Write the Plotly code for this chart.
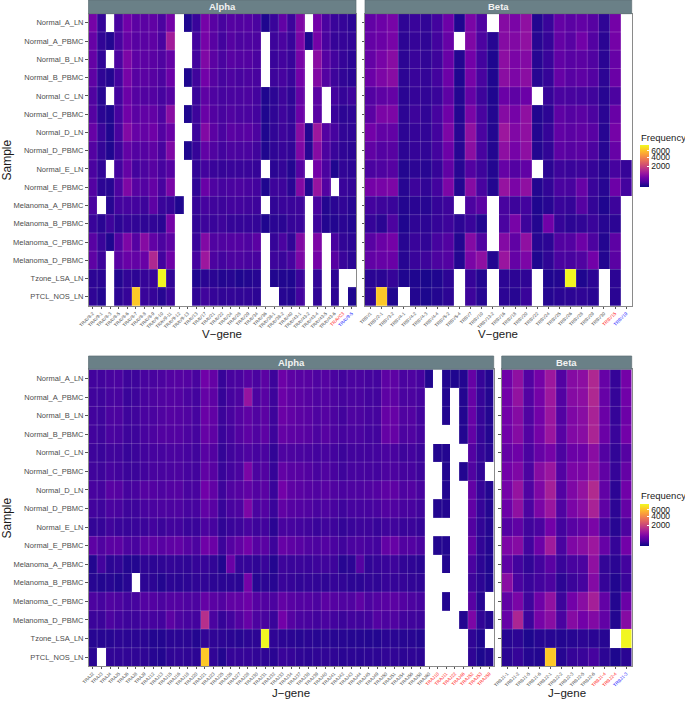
import numpy as np
import plotly.graph_objects as go

N = None
W, H = 685, 702

samples = ["Normal_A_LN", "Normal_A_PBMC", "Normal_B_LN", "Normal_B_PBMC", "Normal_C_LN", "Normal_C_PBMC",
           "Normal_D_LN", "Normal_D_PBMC", "Normal_E_LN", "Normal_E_PBMC", "Melanoma_A_PBMC", "Melanoma_B_PBMC",
           "Melanoma_C_PBMC", "Melanoma_D_PBMC", "Tzone_LSA_LN", "PTCL_NOS_LN"]

trav_grey = ["TRAV8-2", "TRAV9-1", "TRAV8-3", "TRAV8-5", "TRAV8-6", "TRAV8-7", "TRAV8-8", "TRAV8-9", "TRAV9-10",
             "TRAV9-11", "TRAV9-12", "TRAV9-13", "TRAV13", "TRAV17", "TRAV21", "TRAV22", "TRAV24", "TRAV28",
             "TRAV29", "TRAV34", "TRAV36", "TRAV38-1", "TRAV38-2", "TRAV40", "TRAV43-1", "TRAV43-2", "TRAV43-4",
             "TRAV43-5", "TRAV43-6"]
trav_red = ["TRAVC3"]
trav_blue = ["TRAV9-5"]

trbv_grey = ["TRBV1", "TRBV2-1", "TRBV3-2", "TRBV4-1", "TRBV4-2", "TRBV4-3", "TRBV4-4", "TRBV5-2", "TRBV5-4", "TRBV7",
             "TRBV10", "TRBV13-2", "TRBV16", "TRBV18", "TRBV20", "TRBV22", "TRBV24", "TRBV25", "TRBV26", "TRBV28",
             "TRBV29", "TRBV30"]
trbv_red = ["TRBV15"]
trbv_blue = ["TRBV19"]

traj_grey = ["TRAJ2", "TRAJ3", "TRAJ4", "TRAJ5", "TRAJ6", "TRAJ8", "TRAJ9", "TRAJ12", "TRAJ13", "TRAJ15", "TRAJ16",
             "TRAJ18", "TRAJ20", "TRAJ21", "TRAJ23", "TRAJ25", "TRAJ26", "TRAJ27", "TRAJ28", "TRAJ30", "TRAJ31",
             "TRAJ32", "TRAJ33", "TRAJ34", "TRAJ37", "TRAJ38", "TRAJ39", "TRAJ40", "TRAJ41", "TRAJ42", "TRAJ43",
             "TRAJ44", "TRAJ45", "TRAJ49", "TRAJ50", "TRAJ51", "TRAJ54", "TRAJ56", "TRAJ58", "TRAJ60"]
traj_red = ["TRAJ10", "TRAJ11", "TRAJ22", "TRAJ46", "TRAJ52", "TRAJ53", "TRAJ59"]
traj_blue = []

trbj_grey = ["TRBJ1-1", "TRBJ1-2", "TRBJ1-5", "TRBJ1-6", "TRBJ2-1", "TRBJ2-2", "TRBJ2-3", "TRBJ2-5", "TRBJ2-6"]
trbj_red = ["TRBJ1-4", "TRBJ2-4"]
trbj_blue = ["TRBJ1-3"]

alpha_v = [
    [430,50,N,110,380,220,220,250,130,420,N,10,60,430,200,110,180,160,170,120,10,60,260,70,520,N,390,120,60,50,30],
    [300,40,15,110,300,190,210,240,120,1000,N,N,90,440,200,90,180,130,140,130,N,70,120,60,480,10,420,110,50,50,40],
    [280,40,N,130,500,230,230,210,150,280,N,N,90,530,220,120,200,170,170,120,N,60,90,60,450,N,650,180,90,50,30],
    [240,35,15,90,440,190,220,190,130,340,N,10,80,400,180,100,140,110,130,110,N,70,100,60,400,N,560,170,70,40,25],
    [150,20,N,90,340,180,160,170,100,180,N,N,60,240,140,100,120,120,130,90,10,30,70,35,280,N,210,N,90,50,70],
    [180,25,10,100,380,210,260,270,140,640,N,10,70,320,160,110,150,120,120,90,10,35,75,45,340,N,200,N,60,30,35],
    [300,60,10,110,550,300,280,360,170,320,N,N,70,560,220,120,210,180,200,130,10,40,70,50,620,15,900,170,100,40,35],
    [170,45,10,70,270,170,180,240,110,520,N,10,50,260,150,90,130,120,120,80,10,35,55,40,520,20,600,130,60,35,25],
    [120,40,N,90,280,90,130,190,100,180,N,N,40,90,60,50,60,60,60,50,N,25,45,15,180,N,400,120,10,40,30],
    [170,30,20,130,520,190,170,280,110,470,N,N,35,320,140,100,120,130,110,90,10,70,70,25,560,15,800,170,N,60,45],
    [120,N,20,90,100,90,70,230,60,50,10,N,50,100,80,70,90,90,80,70,N,40,60,60,70,N,110,15,25,40,20],
    [60,25,70,30,50,40,35,40,25,430,N,N,40,70,60,70,50,50,50,45,10,25,25,50,60,N,70,15,15,25,15],
    [200,60,10,170,500,180,600,260,130,230,N,N,60,560,150,150,170,170,140,220,N,50,120,40,560,N,500,N,110,40,30],
    [240,70,N,200,310,270,310,1250,90,360,N,N,100,900,130,90,130,130,110,110,N,70,60,100,500,N,420,N,190,60,30],
    [30,25,N,15,40,30,50,55,8000,40,N,N,10,25,25,15,20,10,15,20,N,12,12,10,60,N,45,N,30,N,N],
    [35,15,N,30,50,6300,60,50,20,60,N,N,35,80,50,40,45,40,40,30,N,N,20,15,90,N,40,N,30,N,10],
]

beta_v = [
    [270,350,450,35,60,40,90,350,10,480,150,N,600,480,720,15,60,280,220,270,190,35,420,N],
    [280,330,450,30,50,35,90,300,N,520,130,20,600,560,740,20,50,280,200,390,170,25,420,N],
    [280,450,620,30,60,40,70,310,15,400,90,10,680,480,580,20,60,260,200,220,150,25,300,N],
    [340,500,620,30,60,45,90,350,10,430,110,10,660,500,660,20,50,300,200,240,170,30,330,N],
    [170,230,280,25,50,40,60,230,15,280,70,10,330,240,340,N,50,120,110,100,80,20,130,N],
    [220,480,500,30,70,40,100,360,15,470,110,15,600,430,720,12,30,240,180,210,130,25,310,N],
    [400,260,270,30,50,40,90,500,20,720,120,15,900,540,720,15,50,260,220,250,200,20,430,N],
    [250,170,190,30,50,40,90,350,20,660,110,15,700,430,700,15,40,230,190,220,130,20,300,N],
    [120,140,180,15,30,20,50,250,20,160,70,15,290,170,260,N,25,70,60,70,50,15,100,50],
    [420,450,500,20,70,40,90,500,15,600,110,15,800,480,720,15,40,120,110,300,60,20,350,90],
    [90,70,60,15,25,20,50,70,N,130,220,N,110,70,90,10,20,60,50,180,45,10,70,N],
    [50,25,130,10,35,30,50,70,30,60,15,N,120,450,70,15,380,50,30,40,60,20,30,N],
    [200,320,420,20,60,40,100,160,15,580,150,N,580,250,720,20,30,160,170,350,130,15,230,N],
    [260,300,320,20,60,70,130,170,15,480,700,15,850,280,500,10,35,120,110,150,400,15,210,N],
    [25,25,50,10,10,5,10,30,N,50,15,N,30,30,35,N,10,15,8000,10,30,N,30,N],
    [35,6300,12,N,15,8,15,30,N,70,20,N,30,20,60,N,18,25,30,35,25,N,25,N],
]

alpha_j = [
    [85,85,110,120,70,70,110,110,130,170,180,170,110,380,280,55,110,120,180,120,220,70,350,230,200,190,140,180,120,85,120,120,95,90,230,230,120,140,100,12,N,15,10,15,290,50,15],
    [80,75,100,110,60,70,110,130,150,170,170,120,90,280,230,50,100,130,800,130,200,70,340,240,210,180,140,170,130,95,120,120,90,85,230,230,120,130,100,N,N,15,N,15,290,50,15],
    [85,75,125,130,75,80,120,120,150,180,170,150,100,320,260,65,110,170,240,150,220,70,330,260,220,200,140,180,130,85,140,130,100,95,290,300,150,170,90,N,N,15,N,15,300,50,15],
    [85,70,120,110,70,70,110,130,160,160,170,130,95,290,240,60,95,160,230,150,230,70,280,230,220,190,130,190,130,95,120,120,90,85,280,290,130,150,95,N,N,N,N,15,270,50,15],
    [70,60,80,80,55,65,85,100,100,120,120,100,80,200,160,45,80,100,140,100,120,40,140,130,120,110,90,110,90,65,85,85,85,90,120,110,70,90,65,N,15,15,N,N,170,45,20],
    [80,70,100,85,65,65,85,110,110,120,130,100,85,250,190,55,90,120,480,130,160,50,270,200,190,160,110,150,110,75,100,100,95,90,130,130,95,100,70,N,N,15,N,15,150,40,N],
    [110,95,200,180,95,110,180,170,140,170,180,110,110,380,260,70,150,180,250,160,210,60,400,240,210,180,150,200,150,120,140,140,150,170,230,240,140,170,110,N,N,15,N,N,270,50,15],
    [85,75,120,110,70,70,110,120,130,130,140,100,100,260,200,55,110,130,500,120,170,60,250,180,170,150,110,140,110,75,100,100,100,110,160,150,110,110,80,N,15,15,N,N,260,50,15],
    [45,50,80,60,55,60,65,90,65,85,85,60,60,130,100,35,60,70,110,70,85,25,110,100,90,80,60,80,70,45,60,70,70,55,80,80,60,65,50,N,N,N,N,N,160,40,15],
    [230,150,210,220,130,110,220,240,200,240,260,180,130,370,330,70,180,250,400,180,210,70,300,240,200,150,130,170,120,80,120,130,100,90,270,300,160,170,120,N,15,15,N,N,270,40,15],
    [15,90,30,40,15,15,35,30,35,45,40,35,50,55,40,12,320,50,50,35,60,15,70,60,65,60,70,80,70,20,30,180,40,50,60,70,40,35,25,N,N,15,N,N,120,30,10],
    [20,15,20,12,20,N,30,30,15,30,25,30,35,40,30,25,30,25,420,20,30,20,60,50,40,45,40,35,50,40,30,30,40,35,55,50,50,40,35,N,N,N,N,N,70,30,10],
    [130,100,150,130,90,100,170,170,130,170,170,140,130,280,210,160,250,260,350,180,160,130,270,200,170,170,130,220,180,150,150,240,130,170,200,220,170,130,100,N,N,15,N,N,200,20,N],
    [65,65,130,90,70,70,100,100,90,220,130,100,90,1400,120,50,90,160,300,130,110,60,400,180,120,110,85,120,90,65,85,80,90,170,130,150,85,80,70,N,N,N,N,15,500,40,15],
    [20,20,20,30,25,25,25,15,15,25,25,25,15,40,35,30,25,20,30,30,8000,35,30,25,20,25,20,25,20,20,18,18,15,15,25,25,20,22,15,N,N,N,N,N,35,10,N],
    [25,N,40,40,40,35,35,20,15,35,40,35,30,6300,40,15,50,50,50,40,35,25,60,50,35,30,35,40,35,25,30,25,30,30,40,40,30,35,30,N,N,N,N,N,35,8,15],
]

beta_j = [
    [370,720,170,420,900,170,600,680,1250,300,50,420],
    [400,760,170,420,900,170,600,680,1250,300,50,380],
    [400,600,150,400,850,170,520,640,1120,330,50,350],
    [380,600,170,420,850,200,550,640,1160,330,60,400],
    [280,360,120,300,430,130,330,350,650,170,40,180],
    [400,520,130,600,850,170,480,480,740,250,50,280],
    [420,800,150,520,1050,170,520,760,1300,260,30,380],
    [350,720,130,480,850,150,480,640,1120,240,30,280],
    [170,250,80,120,400,90,200,270,480,90,20,130],
    [500,600,90,350,950,120,520,640,900,300,50,400],
    [230,90,40,90,210,60,110,130,720,45,25,90],
    [640,120,60,90,130,30,65,100,580,50,12,60],
    [250,480,80,360,740,70,400,640,1050,270,15,330],
    [300,1200,70,440,640,120,600,400,560,260,15,600],
    [20,30,8,20,20,15,20,30,25,20,N,8000],
    [25,50,18,15,6300,20,50,60,100,30,8,25],
]

legend_ticks = [2000, 4000, 6000]
freq_max = 8100

plasma = [[0, "#0d0887"], [0.111, "#46039f"], [0.222, "#7201a8"], [0.333, "#9c179e"], [0.444, "#bd3786"],
          [0.555, "#d8576b"], [0.666, "#ed7953"], [0.777, "#fb9f3a"], [0.888, "#fdca26"], [1, "#f0f921"]]

FONT = "Liberation Sans"
TICK_GREY = "#4d4d4d"
STRIP = "#6a8087"
BORDER = "#8a8a8a"
CELL_LINE = "rgba(255,255,255,0.32)"


def sqrt_z(rows):
    return [[None if v is None else float(np.sqrt(v)) for v in r] for r in rows]


def tick_text(grey, red, blue):
    return (grey + [f'<span style="color:#ff2020">{t}</span>' for t in red]
            + [f'<span style="color:#2020ff">{t}</span>' for t in blue])


panels = [
    ("Alpha", alpha_v, tick_text(trav_grey, trav_red, trav_blue), (88.5, 356), (13.7, 306), 0, "coloraxis", True),
    ("Beta", beta_v, tick_text(trbv_grey, trbv_red, trbv_blue), (365, 631.7), (13.7, 306), 0, "coloraxis", False),
    ("Alpha", alpha_j, tick_text(traj_grey, traj_red, traj_blue), (88.5, 493.7), (369.3, 666.3), 356, "coloraxis2", True),
    ("Beta", beta_j, tick_text(trbj_grey, trbj_red, trbj_blue), (501.7, 631.7), (369.3, 666.3), 356, "coloraxis2", False),
]

fig = go.Figure()
shapes, annotations = [], []
layout = {}

for i, (name, rows, labels, xpx, ypx, strip_top, cax, show_y) in enumerate(panels, start=1):
    assert all(len(r) == len(labels) for r in rows), name
    sfx = "" if i == 1 else str(i)
    nx, ny = len(labels), len(samples)
    fig.add_trace(go.Heatmap(z=sqrt_z(rows), x=list(range(nx)), y=list(range(ny)),
                             coloraxis=cax, xaxis=f"x{sfx}", yaxis=f"y{sfx}", hoverongaps=False))
    layout[f"xaxis{sfx}"] = dict(
        domain=[xpx[0] / W, xpx[1] / W], range=[-0.5, nx - 0.5], anchor=f"y{sfx}",
        tickmode="array", tickvals=list(range(nx)), ticktext=labels, tickangle=-45,
        tickfont=dict(family=FONT, size=4.6, color=TICK_GREY), ticks="outside", ticklen=2, tickwidth=0.5,
        tickcolor="#555555", showgrid=False, zeroline=False, showline=True, mirror=True,
        linecolor=BORDER, linewidth=1)
    layout[f"yaxis{sfx}"] = dict(
        domain=[1 - ypx[1] / H, 1 - ypx[0] / H], range=[ny - 0.5, -0.5], anchor=f"x{sfx}",
        tickmode="array", tickvals=list(range(ny)), ticktext=samples if show_y else [""] * ny,
        tickfont=dict(family=FONT, size=7.5, color=TICK_GREY), ticks="outside", ticklen=2.5, tickwidth=0.6,
        tickcolor="#555555", showgrid=False, zeroline=False, showline=True, mirror=True,
        linecolor=BORDER, linewidth=1)
    # thin translucent separators between the tiles
    for k in range(nx - 1):
        shapes.append(dict(type="line", xref=f"x{sfx}", yref=f"y{sfx} domain", x0=k + 0.5, x1=k + 0.5, y0=0, y1=1,
                           line=dict(color=CELL_LINE, width=0.6), layer="above"))
    for k in range(ny - 1):
        shapes.append(dict(type="line", xref=f"x{sfx} domain", yref=f"y{sfx}", x0=0, x1=1, y0=k + 0.5, y1=k + 0.5,
                           line=dict(color=CELL_LINE, width=0.6), layer="above"))
    shapes.append(dict(type="rect", xref="paper", yref="paper", x0=xpx[0] / W, x1=xpx[1] / W,
                       y0=1 - ypx[0] / H, y1=1 - strip_top / H, fillcolor=STRIP,
                       line=dict(color="#5d6e74", width=0.7)))
    annotations.append(dict(text=f"<b>{name}</b>", xref="paper", yref="paper", x=(xpx[0] + xpx[1]) / 2 / W,
                            y=1 - (strip_top + ypx[0]) / 2 / H, showarrow=False, xanchor="center", yanchor="middle",
                            font=dict(family=FONT, size=9.5, color="#f2f2f2")))
    gene = "V\u2212gene" if strip_top == 0 else "J\u2212gene"
    annotations.append(dict(text=gene, xref="paper", yref="paper", x=(xpx[0] + xpx[1]) / 2 / W,
                            y=1 - (ypx[1] + (28 if strip_top == 0 else 26.5)) / H, showarrow=False, xanchor="center",
                            yanchor="middle", font=dict(family=FONT, size=11.5, color="#1a1a1a")))

for yc in (160, 518):
    annotations.append(dict(text="Sample", xref="paper", yref="paper", x=6.5 / W, y=1 - yc / H, showarrow=False,
                            textangle=-90, xanchor="center", yanchor="middle",
                            font=dict(family=FONT, size=12, color="#1a1a1a")))
for yt in (137, 495):
    annotations.append(dict(text="Frequency", xref="paper", yref="paper", x=639 / W, y=1 - yt / H, showarrow=False,
                            xanchor="left", yanchor="middle", font=dict(family=FONT, size=9.5, color="#1a1a1a")))


def colour_axis(top):
    return dict(colorscale=plasma, cmin=0, cmax=float(np.sqrt(freq_max)),
                colorbar=dict(x=639.5 / W, xanchor="left", xpad=0, y=1 - top / H, yanchor="top", ypad=0,
                              lenmode="pixels", len=42, thicknessmode="pixels", thickness=8.5,
                              outlinewidth=0, tickmode="array", tickvals=[float(np.sqrt(t)) for t in legend_ticks],
                              ticktext=[str(t) for t in legend_ticks], ticks="inside", ticklen=2, tickwidth=0.4,
                              tickcolor="#ffffff", tickfont=dict(family=FONT, size=8.5, color="#1a1a1a")))


fig.update_layout(width=W, height=H, margin=dict(l=0, r=0, t=0, b=0, autoexpand=False),
                  paper_bgcolor="white", plot_bgcolor="white",
                  font=dict(family=FONT), shapes=shapes, annotations=annotations,
                  coloraxis=colour_axis(145), coloraxis2=colour_axis(504), **layout)

fig.write_html("out.html", config={"displayModeBar": False}, post_script="document.body.style.margin='0';")
